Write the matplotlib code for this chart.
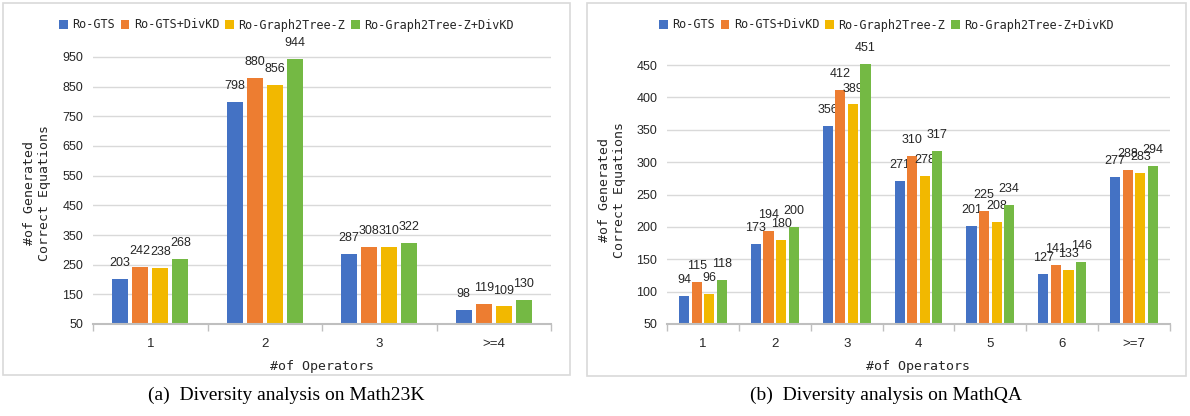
import matplotlib
matplotlib.use("Agg")
import matplotlib.pyplot as plt
from matplotlib.patches import Rectangle
import numpy as np

# data
SERIES = ["Ro-GTS", "Ro-GTS+DivKD", "Ro-Graph2Tree-Z", "Ro-Graph2Tree-Z+DivKD"]
COLORS = ["#4472C4", "#ED7D31", "#F2B800", "#74B944"]

m23k_cats = ["1", "2", "3", ">=4"]
m23k_gts = [203, 798, 287, 98]
m23k_gts_kd = [242, 880, 308, 119]
m23k_g2t = [238, 856, 310, 109]
m23k_g2t_kd = [268, 944, 322, 130]
m23k_ticks = [50, 150, 250, 350, 450, 550, 650, 750, 850, 950]

mqa_cats = ["1", "2", "3", "4", "5", "6", ">=7"]
mqa_gts = [94, 173, 356, 271, 201, 127, 277]
mqa_gts_kd = [115, 194, 412, 310, 225, 141, 288]
mqa_g2t = [96, 180, 389, 278, 208, 133, 283]
mqa_g2t_kd = [118, 200, 451, 317, 234, 146, 294]
mqa_ticks = [50, 100, 150, 200, 250, 300, 350, 400, 450]

W, H = 1190, 416
MONO = "DejaVu Sans Mono"
SANS = "Liberation Sans"
TXT = "#262626"
GRID = "#d9d9d9"


def px(x0, y0, x1, y1):
    # pixel box (top-left origin) -> figure fraction rect
    return [x0 / W, 1 - y1 / H, (x1 - x0) / W, (y1 - y0) / H]


def draw_panel(fig, rect, cats, series, ticks, ylim, box, ylab_x, ylab_y, caption):
    ax = fig.add_axes(rect)
    n = len(cats)
    x = np.arange(n)
    pitch, width = 0.175, 0.14
    bars = []
    for i, (vals, col) in enumerate(zip(series, COLORS)):
        pos = x + (i - 1.5) * pitch
        b = ax.bar(pos, vals, width=width, color=col, label=SERIES[i], zorder=3)
        bars.append(b)
        for xx, v in zip(pos, vals):
            ax.annotate(str(v), (xx, v), xytext=(0, 11.5), textcoords="offset points",
                        ha="center", va="center", fontsize=9, family=SANS, color=TXT,
                        annotation_clip=False)
    ax.set_xlim(-0.5, n - 0.5)
    ax.set_ylim(*ylim)
    ax.set_yticks(ticks)
    ax.set_xticks(x)
    ax.set_xticklabels(cats, fontsize=9.5, family=SANS, color=TXT)
    ax.set_xticks(np.arange(n + 1) - 0.5, minor=True)
    ax.tick_params(axis="x", which="major", length=0, pad=10)
    ax.tick_params(axis="x", which="minor", length=5, color="#bfbfbf", width=1)
    ax.tick_params(axis="y", length=0, pad=7, labelsize=9, labelcolor=TXT)
    for lab in ax.get_yticklabels():
        lab.set_family(SANS)
    ax.grid(axis="y", color=GRID, lw=1, zorder=0)
    for s in ["top", "right", "left"]:
        ax.spines[s].set_visible(False)
    ax.spines["bottom"].set_color("#bfbfbf")
    ax.spines["bottom"].set_linewidth(1.5)
    ax.spines["bottom"].set_zorder(4)

    ax.set_xlabel("#of Operators", fontsize=9.5, family=MONO, color=TXT, labelpad=7)

    # panel frame
    x0, y0, x1, y1 = box
    fig.patches.append(Rectangle((x0 / W, 1 - y1 / H), (x1 - x0) / W, (y1 - y0) / H,
                                 transform=fig.transFigure, fill=False,
                                 edgecolor=GRID, lw=1.2, zorder=0))
    cx = (x0 + x1) / 2 / W
    fig.legend(bars, SERIES, loc="center", bbox_to_anchor=(cx, 1 - 25 / H), ncol=4,
               frameon=False, prop={"family": MONO, "size": 8.5},
               handlelength=0.75, handleheight=0.75, handletextpad=0.4,
               columnspacing=0.45, labelcolor=TXT)
    fig.text(ylab_x / W, 1 - ylab_y / H, "#of Generated\nCorrect Equations",
             rotation=90, ha="center", va="center", multialignment="center",
             fontsize=9.5, family=MONO, color=TXT, linespacing=1.15)
    fig.text(cx, 1 - 395 / H, caption, ha="center", va="center",
             fontsize=14, family="Liberation Serif", color="black")
    return ax


fig = plt.figure(figsize=(W / 100, H / 100), dpi=100)

# left: 950 at y=57 px, 50 at y=324 px
s_l = (324 - 57) / 900
draw_panel(fig, px(93, 324 - 950 * s_l, 551, 324), m23k_cats,
           [m23k_gts, m23k_gts_kd, m23k_g2t, m23k_g2t_kd], m23k_ticks, (50, 1000),
           (3, 3, 570, 375), 37, 193, "(a)  Diversity analysis on Math23K")

# right: 450 at y=65 px, 50 at y=324 px
s_r = (324 - 65) / 400
draw_panel(fig, px(667, 324 - 430 * s_r, 1170, 324), mqa_cats,
           [mqa_gts, mqa_gts_kd, mqa_g2t, mqa_g2t_kd], mqa_ticks, (50, 480),
           (587, 3, 1186, 376), 612, 190, "(b)  Diversity analysis on MathQA")

fig.savefig("out.png", dpi=100)
